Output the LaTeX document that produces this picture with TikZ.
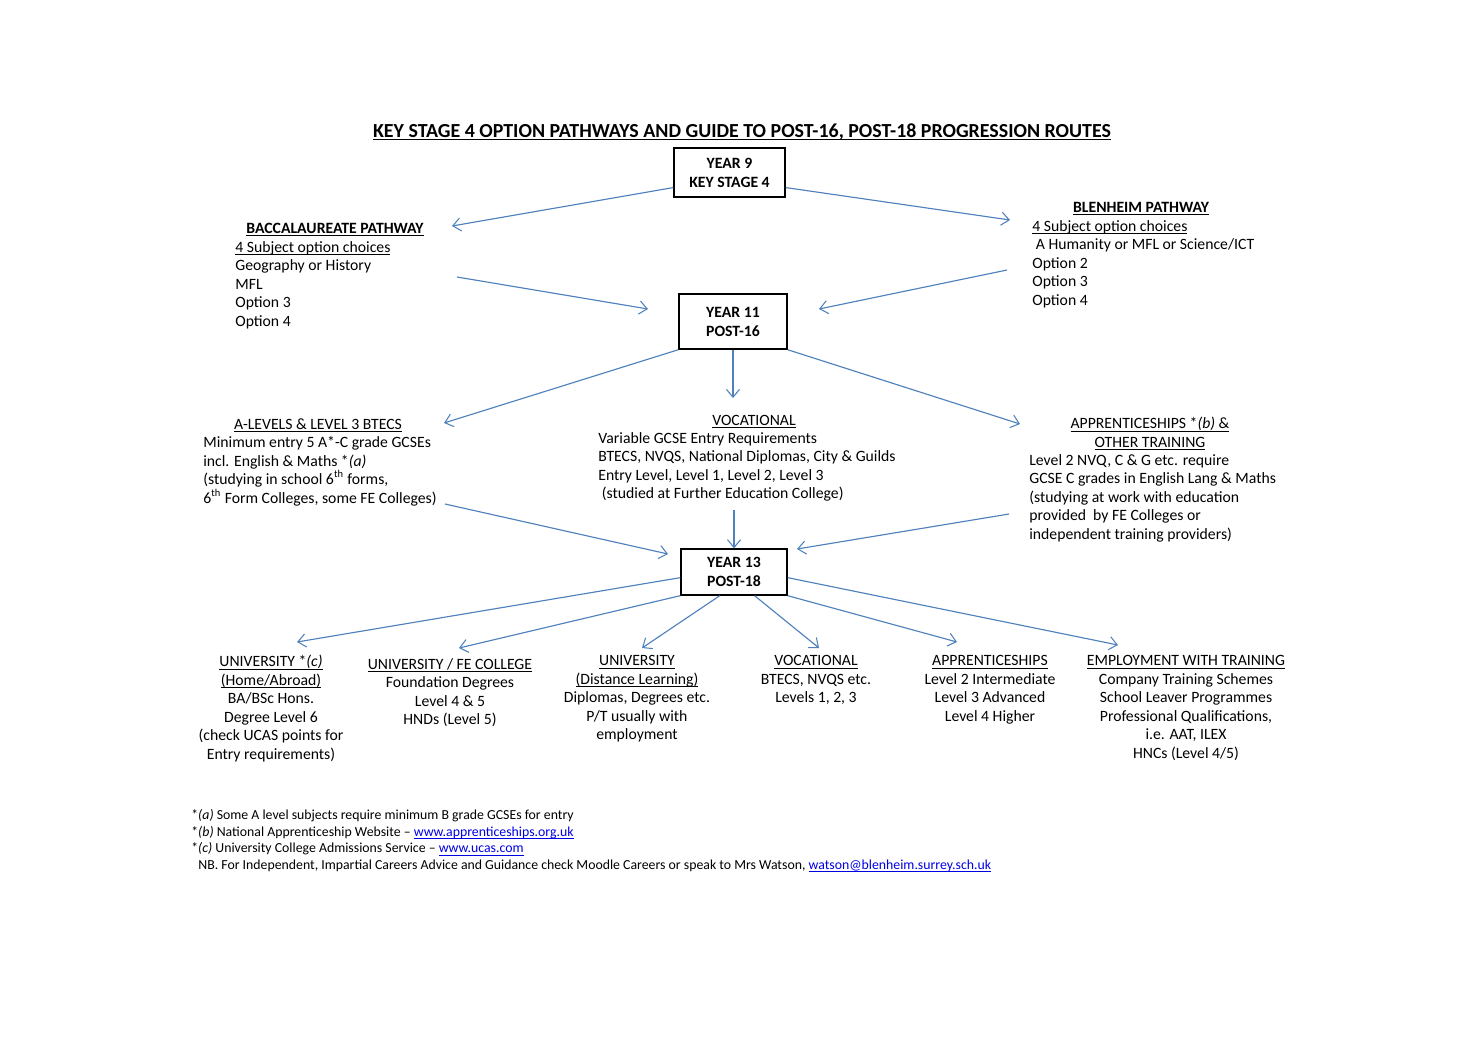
\documentclass[tikz,border=0pt]{standalone}
\usepackage{amsmath}
\usepackage{fontspec}
\setmainfont{Carlito}
\usetikzlibrary{positioning,arrows.meta}
\definecolor{arrowblue}{RGB}{79,129,189}
\definecolor{linkblue}{RGB}{0,0,230}
\newcommand{\ul}[1]{\underline{\smash[b]{#1}}}
\newcommand{\lnk}[1]{\textcolor{linkblue}{\ul{#1}}}

\begin{document}
\begin{tikzpicture}[x=0.5724pt,y=-0.5724pt]
	\tikzstyle{stage}=[draw,thick,font=\bfseries\fontsize{9}{10.9}\selectfont,align=center,inner sep=0pt]
	\tikzstyle{info}=[inner sep=0pt,font=\fontsize{9}{10.6}\selectfont]
	\tikzstyle{flow}=[-{Straight Barb[length=4.5pt,width=7.5pt,line width=0.6pt]},arrowblue,line width=0.65pt]
	\fill[white] (0,0) rectangle (1471,1040);
	\useasboundingbox (0,0) rectangle (1471,1040);
	% title
		\node[inner sep=0pt,anchor=base,font=\bfseries\fontsize{11.4}{13}\selectfont] (title) at (742,137) {\ul{KEY STAGE 4 OPTION PATHWAYS AND GUIDE TO POST-16, POST-18 PROGRESSION ROUTES}};
	% stage boxes
		\node[stage,minimum width=63.5pt,minimum height=28pt] (y9) at (729.5,172.5) {YEAR 9\\KEY STAGE 4};
		\node[stage,minimum width=61.8pt,minimum height=31.5pt] (y11) at (733,321.5) {YEAR 11\\POST-16};
		\node[stage,minimum width=60.7pt,minimum height=26.3pt] (y13) at (734,572) {YEAR 13\\POST-18};
	% key stage 4 pathways
		\node[info,anchor=base,font=\bfseries\fontsize{9}{10.6}\selectfont] (bacch) at (335,233) {\ul{BACCALAUREATE PATHWAY}};
		\node[info,anchor=north west,align=left] (bacc) at (235,241) {\ul{4 Subject option choices}\\Geography or History\\MFL\\Option 3\\Option 4};
		\node[info,anchor=base,font=\bfseries\fontsize{9}{10.6}\selectfont] (blenh) at (1141,212) {\ul{BLENHEIM PATHWAY}};
		\node[info,anchor=north west,align=left] (blen) at (1032,220) {\ul{4 Subject option choices}\\\ A Humanity or MFL or Science/ICT\\Option 2\\Option 3\\Option 4};
	% post-16
		\node[info,anchor=base] (alevh) at (318,429) {\ul{A-LEVELS \& LEVEL 3 BTECS}};
		\node[info,anchor=north west,align=left] (alev) at (203,436) {Minimum entry 5 A*-C grade GCSEs\\incl. English \& Maths *\textit{(a)}\\(studying in school 6\textsuperscript{th} forms,\\6\textsuperscript{th} Form Colleges, some FE Colleges)};
		\node[info,anchor=base] (voch) at (754,425) {\ul{VOCATIONAL}};
		\node[info,anchor=north west,align=left] (voc) at (598,432) {Variable GCSE Entry Requirements\\BTECS, NVQS, National Diplomas, City \& Guilds\\Entry Level, Level 1, Level 2, Level 3\\\ (studied at Further Education College)};
		\node[info,anchor=north,align=center] (apph) at (1150,417) {\ul{APPRENTICESHIPS *\textit{(b)} \&}\\\ul{OTHER TRAINING}};
		\node[info,anchor=north west,align=left] (app) at (1029,454) {Level 2 NVQ, C \& G etc. require\\GCSE C grades in English Lang \& Maths\\(studying at work with education\\provided\ \ by FE Colleges or\\independent training providers)};
	% post-18
		\node[info,anchor=north,align=center] (uni) at (271,655) {\ul{UNIVERSITY *\textit{(c)}}\\\ul{(Home/Abroad)}\\BA/BSc Hons.\\Degree Level 6\\(check UCAS points for\\Entry requirements)};
		\node[info,anchor=north,align=center] (fe) at (450,658) {\ul{UNIVERSITY / FE COLLEGE}\\Foundation Degrees\\Level 4 \& 5\\HNDs (Level 5)};
		\node[info,anchor=north,align=center] (dist) at (637,655) {\ul{UNIVERSITY}\\\ul{(Distance Learning)}\\Diplomas, Degrees etc.\\P/T usually with\\employment};
		\node[info,anchor=north,align=center] (voc2) at (816,655) {\ul{VOCATIONAL}\\BTECS, NVQS etc.\\Levels 1, 2, 3};
		\node[info,anchor=north,align=center] (app2) at (990,655) {\ul{APPRENTICESHIPS}\\Level 2 Intermediate\\Level 3 Advanced\\Level 4 Higher};
		\node[info,anchor=north,align=center] (emp) at (1186,655) {\ul{EMPLOYMENT WITH TRAINING}\\Company Training Schemes\\School Leaver Programmes\\Professional Qualifications,\\i.e. AAT, ILEX\\HNCs (Level 4/5)};
	% footnotes
		\node[info,anchor=north west,align=left,font=\fontsize{7.9}{9.5}\selectfont] (notes) at (191,809) {*\textit{(a)} Some A level subjects require minimum B grade GCSEs for entry\\*\textit{(b)} National Apprenticeship Website -- \lnk{www.apprenticeships.org.uk}\\*\textit{(c)} University College Admissions Service -- \lnk{www.ucas.com}\\\hspace{4pt}NB. For Independent, Impartial Careers Advice and Guidance check Moodle Careers or speak to Mrs Watson, \lnk{watson@blenheim.surrey.sch.uk}};
	% free arrow ends
		\coordinate (toBacc) at (452,226);
		\coordinate (toBlen) at (1010,220);
		\coordinate (fromBacc) at (457,277);
		\coordinate (fromBlen) at (1007,270);
		\coordinate (y11L) at (648,309);
		\coordinate (y11R) at (819,309);
		\coordinate (toAlev) at (444,423);
		\coordinate (toVoc) at (733,398);
		\coordinate (toApp) at (1020,424);
		\coordinate (fromAlev) at (445,504);
		\coordinate (fromVoc) at (734,510);
		\coordinate (fromApp) at (1009,514);
		\coordinate (y13L) at (668,554);
		\coordinate (y13R) at (797,549);
		\coordinate (toUni) at (297,642);
		\coordinate (toFe) at (459,648);
		\coordinate (toDist) at (642,648);
		\coordinate (toVoc2) at (819,648);
		\coordinate (toApp2) at (957,642);
		\coordinate (toEmp) at (1118,645);
	% connectors
			\draw[flow] (y9.195) -- (toBacc);
			\draw[flow] (y9.-15) -- (toBlen);
			\draw[flow] (fromBacc) -- (y11L);
			\draw[flow] (fromBlen) -- (y11R);
			\draw[flow] (y11.south west) -- (toAlev);
			\draw[flow] (y11.south) -- (toVoc);
			\draw[flow] (y11.south east) -- (toApp);
			\draw[flow] (fromAlev) -- (y13L);
			\draw[flow] (fromVoc) -- (y13.north);
			\draw[flow] (fromApp) -- (y13R);
			\draw[flow] (y13.186) -- (toUni);
			\draw[flow] (y13.south west) -- (toFe);
			\draw[flow] (y13.239) -- (toDist);
			\draw[flow] (y13.311) -- (toVoc2);
			\draw[flow] (y13.south east) -- (toApp2);
			\draw[flow] (y13.-6) -- (toEmp);
\end{tikzpicture}
\end{document}
